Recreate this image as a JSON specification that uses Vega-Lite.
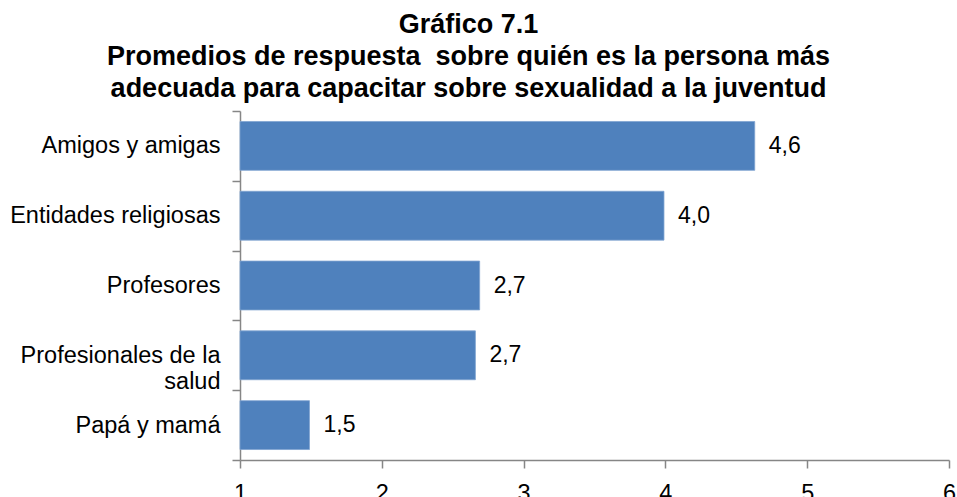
{
  "$schema": "https://vega.github.io/schema/vega-lite/v6.json",
  "width": 709,
  "height": 349,
  "autosize": {"type": "none"},
  "padding": {"left": 240, "top": 111, "right": 8, "bottom": 37},
  "background": "white",
  "config": {
    "view": {"stroke": null},
    "font": "Liberation Sans"
  },
  "title": {
    "text": ["Gráfico 7.1", "Promedios de respuesta\u00a0 sobre quién es la persona más", "adecuada para capacitar sobre sexualidad a la juventud"],
    "font": "Liberation Sans",
    "fontSize": 27,
    "fontWeight": "bold",
    "color": "black",
    "anchor": "middle",
    "frame": "group",
    "dx": -126,
    "dy": 39,
    "baseline": "alphabetic",
    "offset": 14,
    "lineHeight": 32
  },
  "data": {
    "values": [
      {"categoria": "Amigos y amigas", "valor": 4.63, "etiqueta": "4,6"},
      {"categoria": "Entidades religiosas", "valor": 3.99, "etiqueta": "4,0"},
      {"categoria": "Profesores", "valor": 2.69, "etiqueta": "2,7"},
      {"categoria": "Profesionales de la salud", "valor": 2.66, "etiqueta": "2,7"},
      {"categoria": "Papá y mamá", "valor": 1.49, "etiqueta": "1,5"}
    ]
  },
  "encoding": {
    "y": {
      "field": "categoria",
      "type": "nominal",
      "sort": null,
      "title": null,
      "scale": {"paddingInner": 0, "paddingOuter": 0},
      "axis": {
        "tickBand": "extent",
        "domainColor": "#868686",
        "domainWidth": 1.5,
        "tickColor": "#868686",
        "tickWidth": 1.5,
        "tickSize": 8,
        "labelFontSize": 23.5,
        "labelColor": "black",
        "labelPadding": 12,
        "labelLineHeight": 26,
        "labelLimit": 400,
        "labelExpr": "datum.label == 'Profesionales de la salud' ? ['Profesionales de la', 'salud'] : datum.label"
      }
    }
  },
  "layer": [
    {
      "mark": {"type": "bar", "color": "#4F81BD", "stroke": "#7FA3D0", "strokeWidth": 0.8, "height": {"band": 0.7}},
      "encoding": {
        "x": {
          "field": "valor",
          "type": "quantitative",
          "title": null,
          "scale": {"domain": [1, 6], "zero": false, "nice": false},
          "axis": {
            "values": [1, 2, 3, 4, 5, 6],
            "format": "d",
            "grid": false,
            "domainColor": "#868686",
            "domainWidth": 1.5,
            "tickColor": "#868686",
            "tickWidth": 1.5,
            "tickSize": 8,
            "labelFontSize": 23.5,
            "labelColor": "black",
            "labelPadding": 13,
            "labelFlush": false,
            "labelOverlap": false
          }
        },
        "x2": {"datum": 1}
      }
    },
    {
      "mark": {"type": "text", "align": "left", "baseline": "middle", "dx": 14, "fontSize": 23, "color": "black"},
      "encoding": {
        "x": {"field": "valor", "type": "quantitative"},
        "text": {"field": "etiqueta", "type": "nominal"}
      }
    }
  ]
}
